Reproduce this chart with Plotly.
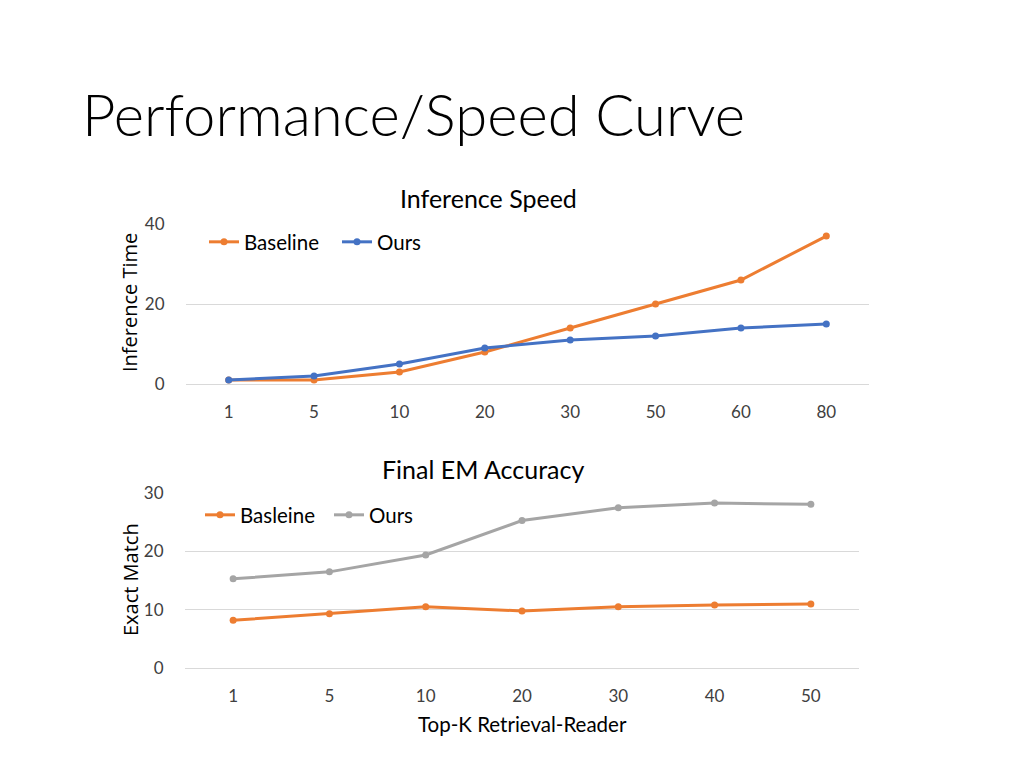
import plotly.graph_objects as go

# Data
speed_k = ["1", "5", "10", "20", "30", "50", "60", "80"]
speed_baseline = [1, 1, 3, 8, 14, 20, 26, 37]
speed_ours = [1, 2, 5, 9, 11, 12, 14, 15]

em_k = ["1", "5", "10", "20", "30", "40", "50"]
em_baseline = [8.2, 9.3, 10.5, 9.8, 10.5, 10.8, 11.0]
em_ours = [15.3, 16.5, 19.4, 25.3, 27.5, 28.3, 28.1]

# page has an 8px body margin; lay out in window pixels
OFF = 8
W, H = 1024 - OFF, 768 - OFF
ORANGE = "#ED7D31"
BLUE = "#4472C4"
GRAY = "#A5A5A5"
GRID = "#D9D9D9"
TICK = "#404040"
FONT = "Lato"

fig = go.Figure()

fig.add_trace(go.Scatter(x=speed_k, y=speed_baseline, name="Baseline", mode="lines+markers",
                         line=dict(color=ORANGE, width=3), marker=dict(size=7, color=ORANGE),
                         xaxis="x", yaxis="y", legend="legend"))
fig.add_trace(go.Scatter(x=speed_k, y=speed_ours, name="Ours", mode="lines+markers",
                         line=dict(color=BLUE, width=3), marker=dict(size=7, color=BLUE),
                         xaxis="x", yaxis="y", legend="legend"))
fig.add_trace(go.Scatter(x=em_k, y=em_baseline, name="Basleine", mode="lines+markers",
                         line=dict(color=ORANGE, width=3), marker=dict(size=7, color=ORANGE),
                         xaxis="x2", yaxis="y2", legend="legend2"))
fig.add_trace(go.Scatter(x=em_k, y=em_ours, name="Ours", mode="lines+markers",
                         line=dict(color=GRAY, width=3), marker=dict(size=7, color=GRAY),
                         xaxis="x2", yaxis="y2", legend="legend2"))

def px_x(p):
    return (p - OFF) / W

def px_y(p):
    return 1 - (p - OFF) / H

axis_common = dict(showline=False, tickfont=dict(family=FONT, size=17, color=TICK))

fig.update_layout(
    width=W, height=H,
    margin=dict(l=0, r=0, t=0, b=0, autoexpand=False),
    paper_bgcolor="white", plot_bgcolor="white",
    showlegend=True,
    xaxis=dict(domain=[px_x(186), px_x(869)], anchor="y", type="category",
               range=[-0.5, len(speed_k) - 0.5], showgrid=False, zeroline=False,
               ticks="outside", ticklen=13, tickcolor="rgba(0,0,0,0)", **axis_common),
    yaxis=dict(domain=[px_y(384), px_y(223.5)], anchor="x", range=[0, 40.15], dtick=20,
               showgrid=True, gridcolor=GRID, gridwidth=1,
               zeroline=True, zerolinecolor=GRID, zerolinewidth=1,
               ticks="outside", ticklen=17, tickcolor="rgba(0,0,0,0)", **axis_common),
    xaxis2=dict(domain=[px_x(185), px_x(859)], anchor="y2", type="category",
                range=[-0.5, len(em_k) - 0.5], showgrid=False, zeroline=False,
                ticks="outside", ticklen=13, tickcolor="rgba(0,0,0,0)", **axis_common),
    yaxis2=dict(domain=[px_y(668), px_y(492.5)], anchor="x2", range=[0, 30.12], dtick=10,
                showgrid=True, gridcolor=GRID, gridwidth=1,
                zeroline=True, zerolinecolor=GRID, zerolinewidth=1,
                ticks="outside", ticklen=17, tickcolor="rgba(0,0,0,0)", **axis_common),
    legend=dict(x=px_x(204), y=px_y(242), xanchor="left", yanchor="middle", orientation="h",
                bgcolor="rgba(0,0,0,0)", font=dict(family=FONT, size=20.5, color="#000000"),
                entrywidth=88, itemwidth=30, tracegroupgap=0),
    legend2=dict(x=px_x(200), y=px_y(515), xanchor="left", yanchor="middle", orientation="h",
                 bgcolor="rgba(0,0,0,0)", font=dict(family=FONT, size=20.5, color="#000000"),
                 entrywidth=84, itemwidth=30, tracegroupgap=0),
    annotations=[
        dict(text="Performance/Speed Curve", x=px_x(80), y=px_y(113), xref="paper", yref="paper",
             xanchor="left", yanchor="middle", showarrow=False,
             font=dict(family=FONT, size=58, color="#000000", weight=300)),
        dict(text="Inference Speed", x=px_x(488), y=px_y(198), xref="paper", yref="paper",
             xanchor="center", yanchor="middle", showarrow=False,
             font=dict(family=FONT, size=25, color="#000000")),
        dict(text="Final EM Accuracy", x=px_x(483), y=px_y(469), xref="paper", yref="paper",
             xanchor="center", yanchor="middle", showarrow=False,
             font=dict(family=FONT, size=25, color="#000000")),
        dict(text="Top-K Retrieval-Reader", x=px_x(522), y=px_y(724), xref="paper", yref="paper",
             xanchor="center", yanchor="middle", showarrow=False,
             font=dict(family=FONT, size=20.5, color="#000000")),
        dict(text="Inference Time", x=px_x(130), y=px_y(303), xref="paper", yref="paper",
             xanchor="center", yanchor="middle", showarrow=False, textangle=-90,
             font=dict(family="Open Sans", size=20, color="#000000")),
        dict(text="Exact Match", x=px_x(130), y=px_y(580), xref="paper", yref="paper",
             xanchor="center", yanchor="middle", showarrow=False, textangle=-90,
             font=dict(family="Open Sans", size=20, color="#000000")),
    ],
)

fig.write_html("out.html")
